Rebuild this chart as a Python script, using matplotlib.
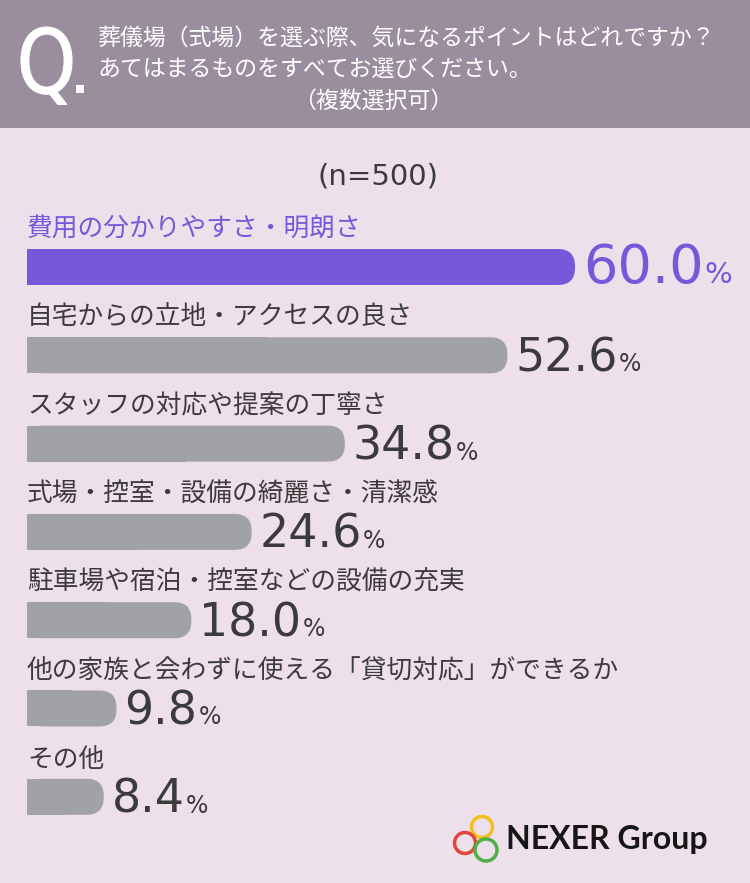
import matplotlib.pyplot as plt
from matplotlib.patches import FancyBboxPatch, Rectangle, Circle, PathPatch
from matplotlib.textpath import TextPath
from matplotlib.font_manager import FontProperties
from matplotlib.transforms import Affine2D

# data
categories = [
    "費用の分かりやすさ・明朗さ",
    "自宅からの立地・アクセスの良さ",
    "スタッフの対応や提案の丁寧さ",
    "式場・控室・設備の綺麗さ・清潔感",
    "駐車場や宿泊・控室などの設備の充実",
    "他の家族と会わずに使える「貸切対応」ができるか",
    "その他",
]
values = [60.0, 52.6, 34.8, 24.6, 18.0, 9.8, 8.4]
n_label = "(n=500)"
question = [
    "葬儀場（式場）を選ぶ際、気になるポイントはどれですか？",
    "あてはまるものをすべてお選びください。",
    "（複数選択可）",
]

W, H = 750, 883
BG = "#eee0ea"
HEAD = "#9a8d9e"
PURPLE = "#7857da"
GRAY = "#a1a2a6"
DARK = "#3b3b3b"
JP = ["Noto Sans CJK JP", "DejaVu Sans"]

fig = plt.figure(figsize=(W / 100, H / 100), dpi=100)
fig.patch.set_facecolor(BG)

# decoration axes in pixel units
deco = fig.add_axes([0, 0, 1, 1])
deco.set_xlim(0, W)
deco.set_ylim(H, 0)
deco.axis("off")

deco.add_patch(Rectangle((0, 0), W, 128, color=HEAD, lw=0))

# condensed "Q." mark
qp = TextPath((0, 0), "Q", size=100, prop=FontProperties(family="DejaVu Sans"))
ext = qp.get_extents()
sx = 51 / ext.width
sy = 66 / ext.y1
qt = Affine2D().translate(-ext.x0, 0).scale(sx, -sy).translate(21, 93)
deco.add_patch(PathPatch(qt.transform_path(qp), fc="white", ec="white", lw=0.8))
deco.add_patch(Rectangle((76, 85), 8, 8, color="white", lw=0))

deco.text(98, 38, question[0], color="white", fontsize=16.5, family=JP, va="center")
deco.text(98, 69, question[1], color="white", fontsize=16.5, family=JP, va="center")
deco.text(373, 101, question[2], color="white", fontsize=16.5, family=JP,
          va="center", ha="center")

deco.text(378, 176, n_label, color=DARK, fontsize=21, ha="center", va="center")

# logo
for (cx, cy, r, c) in [(482, 827, 10.5, "#f1bf1f"), (465, 843, 10.5, "#e2443a"),
                       (486, 850, 11, "#4db044")]:
    deco.add_patch(Circle((cx, cy), r, fill=False, lw=2.5, color=c))
deco.text(506, 839, "NEXER Group", fontsize=23, fontweight="bold",
          family=["Lato", "DejaVu Sans"], color="#161616", va="center")

# bar axes: x in percent, y scaled to same pixel size
k = 548 / 60.0  # pixels per percent
ax = fig.add_axes([0, 0, 1, 1], facecolor="none")
ax.set_xlim(-27 / k, (W - 27) / k)
ax.set_ylim(H / k, 0)
ax.axis("off")

bh = 36 / k
fig.canvas.draw()
renderer = fig.canvas.get_renderer()
for i, (cat, v) in enumerate(zip(categories, values)):
    yc = (267 + 88.3 * i) / k
    col = PURPLE if i == 0 else GRAY
    tcol = PURPLE if i == 0 else DARK
    ax.add_patch(FancyBboxPatch((0, yc - bh / 2), v, bh,
                                boxstyle=f"round,pad=0,rounding_size={17 / k}",
                                fc=col, ec="none"))
    ax.add_patch(Rectangle((0, yc - bh / 2), v / 2, bh, fc=col, ec="none"))
    ax.text(0, yc - 37 / k, cat, color=tcol, fontsize=18.5, family=JP, va="center")
    base = yc + bh / 2 - 2 / k
    t = ax.text(v + 8 / k, base, f"{v:.1f}", color=tcol,
                fontsize=39 if i == 0 else 33, va="baseline")
    bb = t.get_window_extent(renderer)
    x1 = ax.transData.inverted().transform((bb.x1, 0))[0]
    ax.text(x1 + 1 / k, base, "%", color=tcol, fontsize=21 if i == 0 else 17,
            va="baseline")

fig.savefig("out.png", dpi=100, facecolor=BG)
